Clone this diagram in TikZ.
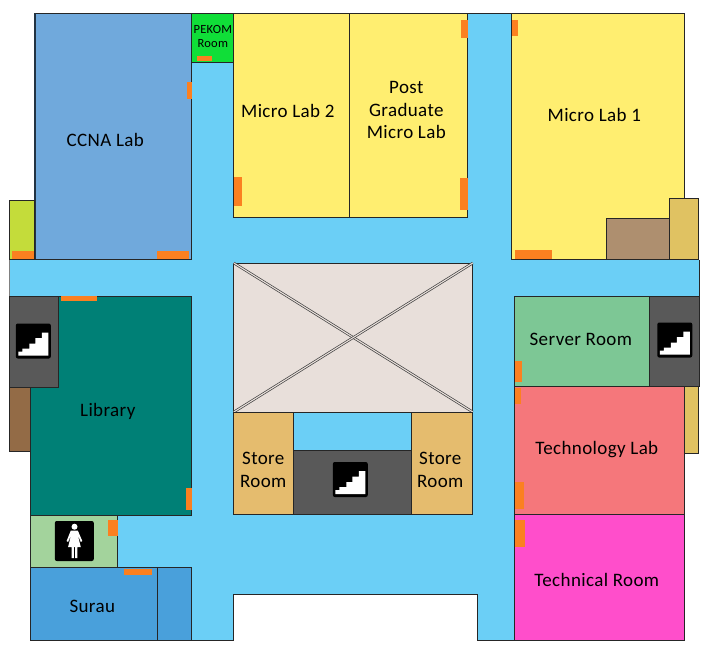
\documentclass[tikz,border=0pt]{standalone}
\usepackage{fontspec}
\setmainfont[LetterSpace=2]{Carlito}
\definecolor{corridor}{HTML}{6BCFF6}
\definecolor{ccna}{HTML}{70A9DC}
\definecolor{pekom}{HTML}{10DE38}
\definecolor{micro}{HTML}{FFEE70}
\definecolor{brownbox}{HTML}{AE8F6F}
\definecolor{tanbox}{HTML}{E0C262}
\definecolor{lime}{HTML}{C4DC3A}
\definecolor{stairs}{HTML}{595959}
\definecolor{darkbrown}{HTML}{936B46}
\definecolor{library}{HTML}{008076}
\definecolor{toilet}{HTML}{A3D39C}
\definecolor{surau}{HTML}{49A0DB}
\definecolor{void}{HTML}{E8DFDA}
\definecolor{store}{HTML}{E5BC6E}
\definecolor{server}{HTML}{7DC795}
\definecolor{techlab}{HTML}{F5777B}
\definecolor{technical}{HTML}{FF4ECB}
\definecolor{door}{HTML}{FB8020}
\tikzset{
	room/.style={draw=black!85,line width=0.9pt,line join=miter},
	roomlabel/.style={font=\fontsize{19}{22.5}\selectfont,align=center,inner sep=0pt},
	smalllabel/.style={font=\fontsize{12.5}{14}\selectfont,align=center,inner sep=0pt},
	stairicon/.pic={
		\fill[black,rounded corners=2pt] (-17.5,-17.5) rectangle (17.5,17.5);
		\fill[white] (-15,14.5) -- (15,14.5) -- (15,-8.5) -- (8.5,-8.5) -- (8.5,-3) -- (2,-3) -- (2,2.5) -- (-4,2.5) -- (-4,7.5) -- (-11,7.5) -- (-11,10.5) -- (-15,10.5) -- cycle;
	}
}
\begin{document}
\begin{tikzpicture}[x=1pt,y=-1pt]
	\useasboundingbox (0.2,0) rectangle (707.2,659);
	%corridor
	\fill[corridor] (192,13) -- (512,13) -- (512,260) -- (700,260) -- (700,296) -- (515,296) -- (515,640) -- (478,640) -- (478,594) -- (234,594) -- (234,640) -- (192,640) -- (192,567) -- (118,567) -- (118,515) -- (192,515) -- (192,296) -- (10,296) -- (10,260) -- (192,260) -- cycle;
	\draw[black!85,line width=0.9pt] (192,640) -- (234,640) -- (234,594) -- (478,594) -- (478,640) -- (515,640);
	\draw[black!50,line width=0.9pt] (10,260) -- (10,296);
	\draw[black!85,line width=0.9pt] (700,260) -- (700,296);
	\draw[black!85,line width=0.9pt] (468,13) -- (512,13);

	%top rooms
	\draw[room,fill=ccna] (35,13) rectangle (192,259);
	\draw[black!70!ccna,line width=1.6pt] (35,13) -- (35,259); %thick wall
	\draw[room,fill=pekom] (192,13) rectangle (234,62);
	\draw[room,fill=micro] (234,13) rectangle (350,217);
	\draw[room,fill=micro] (350,13) rectangle (468,217);
	\draw[room,fill=micro] (512,13) rectangle (685,259);
	\draw[room,fill=brownbox] (607,218) rectangle (670,259);
	\draw[room,fill=tanbox] (670,198) rectangle (699,259);
	\draw[room,fill=lime] (10,200) rectangle (35,259);

	%left rooms
	\draw[room,fill=darkbrown] (10,387) rectangle (31,451);
	\draw[room,fill=library] (31,296) rectangle (192,515);
	\draw[room,fill=stairs] (10,296) rectangle (59,387);
	\draw[room,fill=toilet] (31,515) rectangle (118,567);
	\draw[room,fill=surau] (31,567) rectangle (158,640);
	\draw[room,fill=surau] (158,567) rectangle (192,640);

	%middle block
	\draw[room,fill=void] (234,263) rectangle (473,412);
	\draw[black!75,double=void,double distance=1.1pt,line width=0.7pt] (234,263) -- (473,412);
	\draw[black!75,double=void,double distance=1.1pt,line width=0.7pt] (473,263) -- (234,412);
	\draw[room,fill=store] (234,412) rectangle (294,514);
	\draw[room,fill=store] (412,412) rectangle (473,514);
	\draw[room,fill=stairs] (294,450) rectangle (412,514);

	%right rooms
	\draw[room,fill=tanbox] (685,386) rectangle (699,453);
	\draw[room,fill=server] (515,296) rectangle (650,386);
	\draw[room,fill=stairs] (650,296) rectangle (700,386);
	\draw[room,fill=techlab] (515,386) rectangle (685,514);
	\draw[room,fill=technical] (515,514) rectangle (685,640);

	%doors
	\foreach \xa/\ya/\xb/\yb in {197/56/212/61,187/82/192/99,157/251/189/259,12/251/34/259,61/296/97/301,186/488/192/510,108/520/118/536,124/569/152/575,234/177/242/206,460/178/468/210,461/20/468/38,512/20/518/36,515/250/552/259,515/361/522/382,515/388/521/404,515/482/524/509,515/520/525/547}
		\fill[door] (\xa,\ya) rectangle (\xb,\yb);

	%icons
	\pic at (33.5,341) {stairicon};
	\pic at (675,340) {stairicon};
	\pic at (350.5,479.5) {stairicon};
	\fill[black,rounded corners=2pt] (55,521) rectangle (94,561);
	\fill[white] (74.7,526.7) circle (3);
	\fill[white] (71,530.5) -- (78,530.5) -- (82.5,541) -- (81,542) -- (78,535) -- (81,547) -- (77.5,547) -- (77.5,558) -- (75.3,558) -- (75.3,547) -- (74,547) -- (74,558) -- (71.8,558) -- (71.8,547) -- (68.3,547) -- (71.3,535) -- (68.3,542) -- (66.8,541) -- cycle;

	%labels
	\node[roomlabel] (ccnalab) at (105.5,139.5) {CCNA Lab};
	\node[smalllabel] (pekomroom) at (213,36) {PEKOM\\Room};
	\node[roomlabel] (microlabtwo) at (288,111) {Micro Lab 2};
	\node[roomlabel] (postgrad) at (406.5,110) {Post\\Graduate\\Micro Lab};
	\node[roomlabel] (microlabone) at (594.5,115) {Micro Lab 1};
	\node[roomlabel] (librarylabel) at (108,411.5) {Library};
	\node[roomlabel] (suraulabel) at (92.5,606) {Surau};
	\node[roomlabel] (storeleft) at (263.5,470) {Store\\Room};
	\node[roomlabel] (storeright) at (440.5,470) {Store\\Room};
	\node[roomlabel] (serverroom) at (581,339.5) {Server Room};
	\node[roomlabel] (technologylab) at (597,450) {Technology Lab};
	\node[roomlabel] (technicalroom) at (597,580) {Technical Room};
\end{tikzpicture}
\end{document}
